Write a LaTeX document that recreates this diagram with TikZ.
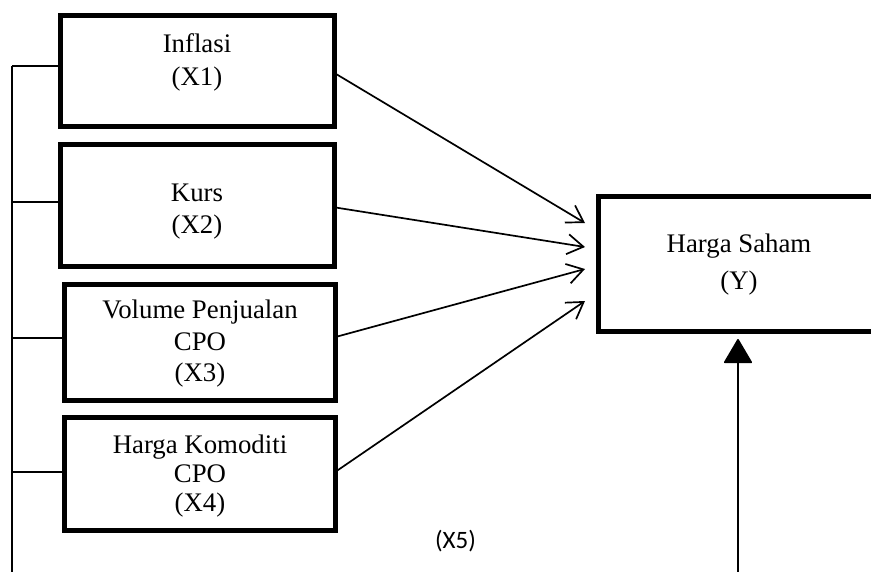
\documentclass[tikz,border=0pt]{standalone}
\usepackage{fontspec}
\setmainfont{Liberation Serif}
\newfontfamily\calibrifont{Carlito}
\usetikzlibrary{arrows.meta,calc}
\begin{document}
\begin{tikzpicture}[x=1pt,y=-1pt,
  box/.style={draw, line width=5pt, inner sep=0pt, outer sep=0pt},
  lbl/.style={font=\fontsize{26.8}{#1}\selectfont, align=center, inner sep=0pt},
  conn/.style={line width=1.7pt},
  arr/.style={conn, -{Straight Barb[length=16pt,width=20pt]}},
  uparr/.style={conn, -{Triangle[length=25pt,width=29pt,round]}}]
\useasboundingbox (0,0) rectangle (871,571);
\clip (0,0) rectangle (871,571);
% boxes
\node[box, minimum width=273.5pt, minimum height=111.5pt] (b1) at (197.25,70.75) {};
\node[box, minimum width=273.5pt, minimum height=121.5pt] (b2) at (197.25,205.25) {};
\node[box, minimum width=271pt, minimum height=116pt] (b3) at (200,342.5) {};
\node[box, minimum width=271pt, minimum height=113.5pt] (b4) at (200,473.75) {};
\node[box, minimum width=281.5pt, minimum height=135pt] (yb) at (739.25,263.5) {};
% texts
\node[lbl=33] (t1) at (197,62) {Inflasi\\(X1)};
\node[lbl=32] (t2) at (197,211.5) {Kurs\\(X2)};
\node[lbl=31.5] (t3) at (200,344) {Volume Penjualan\\CPO\\(X3)};
\node[lbl=29] (t4) at (200,476) {Harga Komoditi\\CPO\\(X4)};
\node[lbl=37] (ty) at (739,265) {Harga Saham\\(Y)};
\node[font=\calibrifont\fontsize{25}{30}\selectfont, inner sep=0pt, anchor=base] (x5) at (455.5,548) {(X5)};
% arrow ends
\coordinate (e1) at (585,223);
\coordinate (e2) at (585,247);
\coordinate (e3) at (585,269);
\coordinate (e4) at (585,301);
\draw[arr] ($(b1.east)+(0,2)$) -- (e1);
\draw[arr] ($(b2.east)+(0,2)$) -- (e2);
\draw[arr] ($(b3.east)+(0,-5.5)$) -- (e3);
\draw[arr] ($(b4.east)+(0,-2)$) -- (e4);
% left bus
\coordinate (bus1) at (12,66);
\coordinate (bus2) at (12,202);
\coordinate (bus3) at (12,338);
\coordinate (bus4) at (12,472);
\coordinate (busend) at (12,580);
\draw[conn] (bus1) -- (busend);
\draw[conn] (bus1) -- (bus1 -| b1.west);
\draw[conn] (bus2) -- (bus2 -| b2.west);
\draw[conn] (bus3) -- (bus3 -| b3.west);
\draw[conn] (bus4) -- (bus4 -| b4.west);
% bottom arrow
\coordinate (ys) at (738,580);
\coordinate (yt) at (738,339);
\draw[uparr] (ys) -- (yt);
\end{tikzpicture}
\end{document}
